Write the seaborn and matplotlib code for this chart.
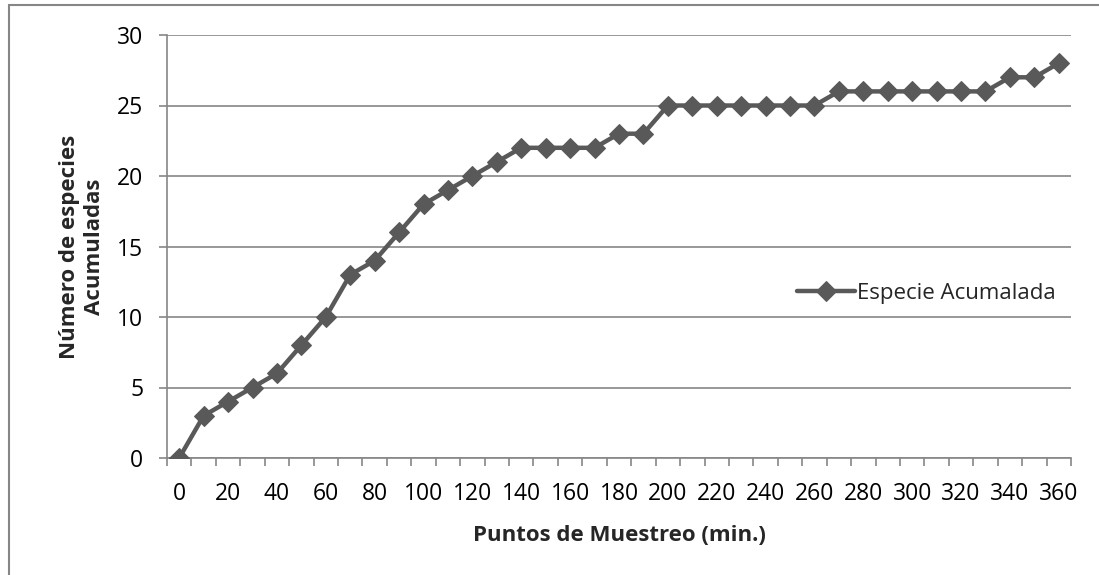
import numpy as np
import pandas as pd
import matplotlib
matplotlib.use('Agg')
import matplotlib.pyplot as plt
import seaborn as sns
from matplotlib.patches import Rectangle
from matplotlib.ticker import FixedLocator

# Data
minutos = list(range(0, 361, 10))
especies = [0, 3, 4, 5, 6, 8, 10, 13, 14, 16, 18, 19, 20, 21, 22, 22, 22, 22, 23, 23,
            25, 25, 25, 25, 25, 25, 25, 26, 26, 26, 26, 26, 26, 26, 27, 27, 28]
serie = 'Especie Acumalada'

df = pd.DataFrame({'minutos': minutos, 'especies': especies})

sns.set_style('white')
plt.rcParams['font.family'] = ['Open Sans', 'DejaVu Sans']

gray_line = '#595959'
axis_gray = '#868686'

fig = plt.figure(figsize=(10.99, 5.75), dpi=100)
ax = fig.add_axes([167 / 1099, 1 - 458 / 575, (1071 - 167) / 1099, (458 - 35) / 575])

sns.lineplot(data=df, x='minutos', y='especies', ax=ax, color=gray_line,
             linewidth=3.2, marker='D', markersize=10, markeredgecolor=gray_line,
             label=serie, zorder=3)

ax.set_xlim(-5, 365)
ax.set_ylim(0, 30)
ax.set_yticks(range(0, 31, 5))
ax.set_xticks(range(0, 361, 20))
ax.xaxis.set_minor_locator(FixedLocator(np.arange(-5, 366, 10)))
ax.tick_params(axis='x', which='major', length=0, labelsize=16.5, pad=17, colors='black')
ax.tick_params(axis='x', which='minor', length=6, width=1.2, color=axis_gray, bottom=True)
ax.tick_params(axis='y', which='major', length=6, width=1.2, color=axis_gray, labelsize=16.5,
               pad=11, left=True, labelcolor='black')

ax.grid(axis='y', color=axis_gray, linewidth=1.2)
ax.grid(axis='x', visible=False)
ax.set_axisbelow(True)
for s in ['top', 'right']:
    ax.spines[s].set_visible(False)
for s in ['left', 'bottom']:
    ax.spines[s].set_color(axis_gray)
    ax.spines[s].set_linewidth(1.2)

ax.set_xlabel('Puntos de Muestreo (min.)', fontsize=16, fontweight='bold', labelpad=14)
ax.set_ylabel('Número de especies\nAcumuladas', fontsize=16, fontweight='bold', labelpad=9,
              linespacing=1.25)

leg = ax.legend(loc='center left', bbox_to_anchor=(797 / 1099, 1 - 293 / 575),
                bbox_transform=fig.transFigure, frameon=False, fontsize=16,
                handlelength=2.6, handletextpad=0.1, borderaxespad=0, borderpad=0)

# outer chart border
fig.patches.append(Rectangle((9 / 1099, -0.05), 1.2, 1 - 5 / 575 + 0.05, transform=fig.transFigure,
                             fill=False, edgecolor=axis_gray, linewidth=1.5, zorder=0))

fig.savefig('out.png', dpi=100)
